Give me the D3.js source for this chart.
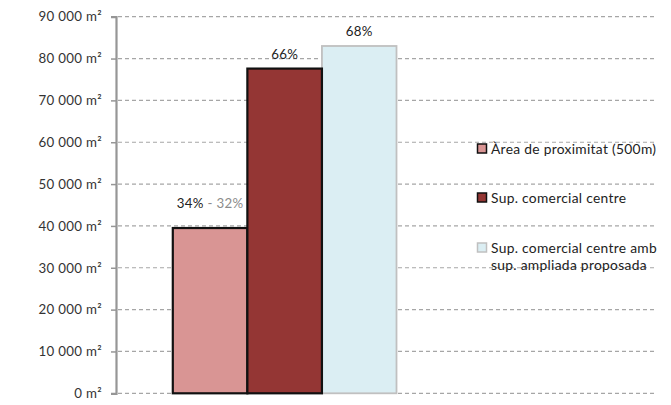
<!DOCTYPE html>
<html><head><meta charset="utf-8">
<script src="https://cdn.jsdelivr.net/npm/d3@7"></script>
<style>body{margin:0;background:#fff}svg{display:block}text{font-family:Lato,"Open Sans",sans-serif;letter-spacing:0.3px}</style>
</head><body><svg id="c" width="671" height="405"></svg>
<script>
const categories = ["Àrea de proximitat (500m)", "Sup. comercial centre", "Sup. comercial centre amb sup. ampliada proposada"];
const legendLines = [["Àrea de proximitat (500m)"], ["Sup. comercial centre"], ["Sup. comercial centre amb", "sup. ampliada proposada"]];
const values = [39500, 77600, 83000];
const labels = [["34%", " - 32%"], ["66%"], ["68%"]];
const tickValues = [0,10000,20000,30000,40000,50000,60000,70000,80000,90000];
const fills = ["#d99594", "#943634", "#dbeef3"];
const strokes = ["#111", "#111", "#c0c0c0"];

const svg = d3.select("#c");
const y = d3.scaleLinear().domain([0, 90000]).range([393.3, 16.7]);
const x = d3.scaleBand().domain(categories).range([172.8, 396.5]).padding(0);
const loc = d3.formatLocale({decimal: ",", thousands: " ", grouping: [3]});
const fmt = loc.format(",");
const FS = 13.3;

// grid
svg.append("g").selectAll("line").data(tickValues).join("line")
  .attr("x1", 118).attr("x2", 656)
  .attr("y1", d => y(d)).attr("y2", d => y(d))
  .attr("stroke", "#a6a6a6").attr("stroke-width", 1.2).attr("stroke-dasharray", "4,3");

// axis
const ax = svg.append("g").attr("transform", "translate(116,0)")
  .call(d3.axisLeft(y).tickValues(tickValues).tickSize(5).tickPadding(9).tickFormat(d => fmt(d) + " m²"));
ax.select(".domain").attr("stroke", "#969696").attr("stroke-width", 2.2);
ax.selectAll(".tick line").attr("stroke", "#969696").attr("stroke-width", 1.5);
ax.selectAll(".tick text").attr("fill", "#333").attr("font-size", FS).attr("font-family", "Lato,sans-serif");

// bars
const order = [2, 0, 1];
svg.append("g").selectAll("rect").data(order).join("rect")
  .attr("x", i => x(categories[i]))
  .attr("y", i => y(values[i]))
  .attr("width", x.bandwidth())
  .attr("height", i => y(0) - y(values[i]))
  .attr("fill", i => fills[i])
  .attr("stroke", i => strokes[i])
  .attr("stroke-width", i => i === 2 ? 1.8 : 2.2);

// labels
const lg = svg.append("g");
categories.forEach((c, i) => {
  const t = lg.append("text")
    .attr("x", x(c) + x.bandwidth() / 2)
    .attr("y", y(values[i]) - (i === 0 ? 20 : 10))
    .attr("text-anchor", "middle").attr("font-size", FS).attr("fill", "#222");
  t.append("tspan").text(labels[i][0]);
  if (labels[i][1]) t.append("tspan").attr("fill", "#8c8c8c").text(labels[i][1]);
});

// legend
const legY = [149, 198, 248];
const leg = svg.append("g");
categories.forEach((c, i) => {
  leg.append("rect").attr("x", 477.5).attr("y", legY[i] - 5).attr("width", 9).attr("height", 9)
    .attr("fill", fills[i]).attr("stroke", i === 2 ? "#c0c0c0" : "#111").attr("stroke-width", 1.5);
  legendLines[i].forEach((ln, j) => {
    leg.append("text").attr("x", 491).attr("y", legY[i] + 4.5 + j * 17)
      .attr("font-size", 13.8).attr("letter-spacing", "0.45px").attr("fill", "#222").text(ln);
  });
});
</script></body></html>
